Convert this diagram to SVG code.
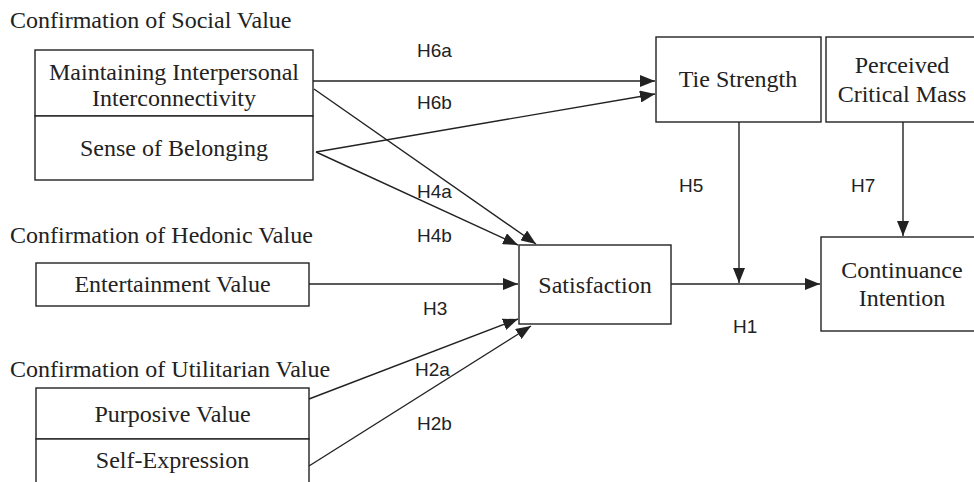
<svg xmlns="http://www.w3.org/2000/svg" width="974" height="482" viewBox="0 0 974 482">
<style>
.box{fill:#fff;stroke:#222;stroke-width:1.4}
.t{font-family:"Liberation Serif","Times New Roman",serif;font-size:24px;fill:#222}
.c{text-anchor:middle}
.h{font-family:"Liberation Sans",Arial,sans-serif;font-size:19px;fill:#222}
.e{fill:none;stroke:#222;stroke-width:1.4;marker-end:url(#ah)}
</style>
<defs>
<marker id="ah" markerUnits="userSpaceOnUse" markerWidth="16" markerHeight="12" refX="15" refY="6" orient="auto">
<path d="M0,0 L15,6 L0,12 Z" fill="#222"/>
</marker>
</defs>
<rect width="974" height="482" fill="#fff"/>
<g id="titles">
<text class="t" x="10" y="28">Confirmation of Social Value</text>
<text class="t" x="10" y="243">Confirmation of Hedonic Value</text>
<text class="t" x="10" y="377">Confirmation of Utilitarian Value</text>
</g>
<g id="maintaining">
<rect class="box" x="35" y="50" width="278" height="66"/>
<text class="t c" x="174" y="80">Maintaining Interpersonal</text>
<text class="t c" x="174" y="106">Interconnectivity</text>
</g>
<g id="belonging">
<rect class="box" x="35" y="116" width="278" height="64"/>
<text class="t c" x="174" y="156">Sense of Belonging</text>
</g>
<g id="entertainment">
<rect class="box" x="36" y="263" width="273" height="43"/>
<text class="t c" x="172.5" y="292">Entertainment Value</text>
</g>
<g id="purposive">
<rect class="box" x="36" y="388" width="273" height="51"/>
<text class="t c" x="172.5" y="422">Purposive Value</text>
</g>
<g id="selfexpression">
<rect class="box" x="36" y="439" width="273" height="55"/>
<text class="t c" x="172.5" y="468">Self-Expression</text>
</g>
<g id="satisfaction">
<rect class="box" x="519" y="245" width="152" height="79"/>
<text class="t c" x="595" y="293">Satisfaction</text>
</g>
<g id="tiestrength">
<rect class="box" x="656" y="37" width="165" height="85"/>
<text class="t c" x="738" y="87">Tie Strength</text>
</g>
<g id="criticalmass">
<rect class="box" x="826" y="37" width="154" height="85"/>
<text class="t c" x="902" y="73">Perceived</text>
<text class="t c" x="902" y="102">Critical Mass</text>
</g>
<g id="continuance">
<rect class="box" x="821" y="237" width="160" height="94"/>
<text class="t c" x="902" y="278">Continuance</text>
<text class="t c" x="902" y="306">Intention</text>
</g>
<g id="connectors">
<line class="e" x1="313" y1="81" x2="655" y2="81"/>
<line class="e" x1="316" y1="152" x2="655" y2="94"/>
<line class="e" x1="314" y1="89" x2="536" y2="244"/>
<line class="e" x1="316" y1="152" x2="518" y2="245"/>
<line class="e" x1="309" y1="284" x2="518" y2="284"/>
<line class="e" x1="309" y1="399" x2="518" y2="319"/>
<line class="e" x1="309" y1="466" x2="531" y2="326"/>
<line class="e" x1="671" y1="284" x2="820" y2="284"/>
<line class="e" x1="739" y1="122" x2="739" y2="283"/>
<line class="e" x1="903" y1="122" x2="903" y2="236"/>
</g>
<g id="labels">
<text class="h" x="417" y="57">H6a</text>
<text class="h" x="417" y="109">H6b</text>
<text class="h" x="417" y="198">H4a</text>
<text class="h" x="417" y="242">H4b</text>
<text class="h" x="423" y="315">H3</text>
<text class="h" x="415" y="376">H2a</text>
<text class="h" x="417" y="430">H2b</text>
<text class="h" x="679" y="192">H5</text>
<text class="h" x="851" y="192">H7</text>
<text class="h" x="733" y="333">H1</text>
</g>
</svg>
